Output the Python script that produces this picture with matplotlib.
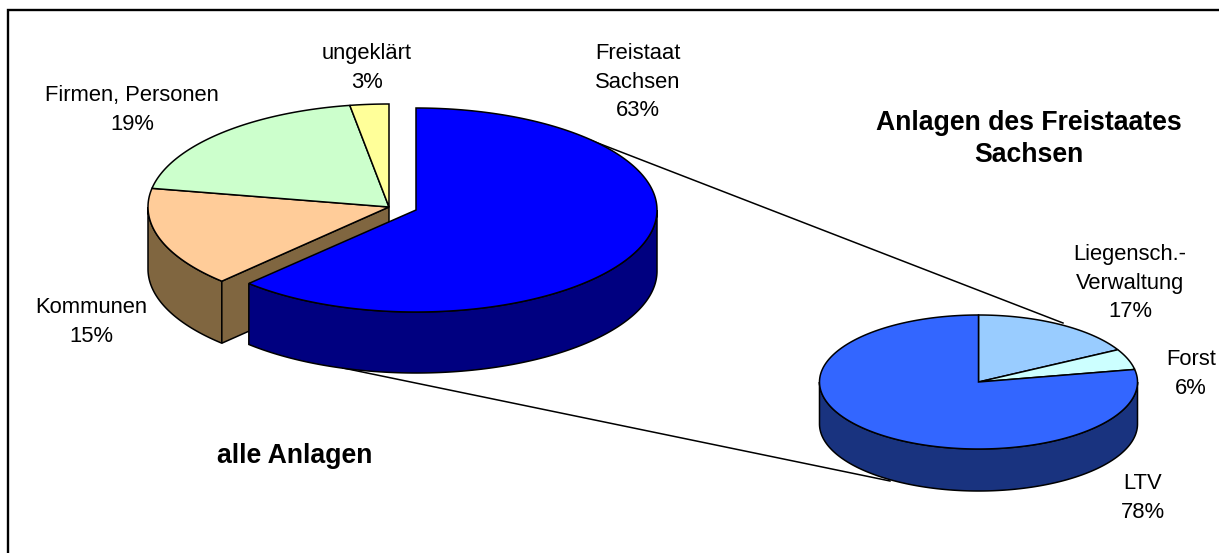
import numpy as np
import matplotlib
matplotlib.use("Agg")
import matplotlib.pyplot as plt
from matplotlib.patches import Polygon

plt.rcParams["font.family"] = ["Liberation Sans", "DejaVu Sans"]

# main pie, shares (labels are rounded)
main_names = ["Freistaat\nSachsen", "Kommunen", "Firmen, Personen", "ungeklärt"]
main_shares = [62.2, 15.7, 19.5, 2.6]
main_labels = ["63%", "15%", "19%", "3%"]
main_top = ["#0000FF", "#FFCC99", "#CCFFCC", "#FFFF99"]
main_side = ["#000080", "#806640", "#668066", "#808040"]

# second pie
sub_names = ["Liegensch.-\nVerwaltung", "Forst", "LTV"]
sub_shares = [17.0, 5.0, 78.0]
sub_labels = ["17%", "6%", "78%"]
sub_top = ["#99CCFF", "#CCFFFF", "#3366FF"]
sub_side = ["#4C6680", "#668080", "#19337F"]

LW = 1.1


def arc(cx, cy, rx, ry, a0, a1):
    # angles in degrees, clockwise from 12 o'clock
    t = np.radians(np.linspace(a0, a1, max(int(abs(a1 - a0)) * 2, 2)))
    return np.column_stack([cx + rx * np.sin(t), cy - ry * np.cos(t)])


def draw_wall(ax, cx, cy, rx, ry, depth, a0, a1, color, z):
    # only the front half of the rim is visible
    a0, a1 = max(a0, 90), min(a1, 270)
    if a1 <= a0:
        return
    up = arc(cx, cy, rx, ry, a0, a1)
    down = up[::-1] + [0, depth]
    ax.add_patch(Polygon(np.vstack([up, down]), closed=True, fc=color, ec="black", lw=LW, zorder=z))


def draw_top(ax, cx, cy, rx, ry, a0, a1, color, z):
    pts = np.vstack([[cx, cy], arc(cx, cy, rx, ry, a0, a1)])
    ax.add_patch(Polygon(pts, closed=True, fc=color, ec="black", lw=LW, zorder=z))


def angles(shares):
    edges = np.cumsum([0] + list(shares)) / sum(shares) * 360
    return list(zip(edges[:-1], edges[1:]))


fig = plt.figure(figsize=(12.19, 5.53), dpi=100)
ax = fig.add_axes([0, 0, 1, 1])
ax.set_xlim(0, 1219)
ax.set_ylim(553, 0)
ax.axis("off")

# outer frame, runs off the right and bottom of the picture
ax.plot([8, 8, 1219], [553, 10, 10], color="black", lw=1.7, zorder=0, solid_joinstyle="miter")

# connector lines
ax.plot([590, 1063], [140, 323], color="black", lw=LW, zorder=1)
ax.plot([343, 890], [368, 481], color="black", lw=LW, zorder=1)

# main pie, rest of the slices sit on one centre, Freistaat is pulled out
cx, cy, rx, ry, depth = 389, 207, 241, 103, 62
bx, by, bry, bdepth = 416, 210, 102, 61
main_angles = angles(main_shares)
for i in [1, 2, 3]:
    a0, a1 = main_angles[i]
    draw_wall(ax, cx, cy, rx, ry, depth, a0, a1, main_side[i], 2)

# cut face of Kommunen towards the pulled out slice
edge = arc(cx, cy, rx, ry, main_angles[1][0], main_angles[1][0])[0]
face = [[cx, cy], edge, edge + [0, depth], [cx, cy + depth]]
ax.add_patch(Polygon(face, closed=True, fc=main_side[1], ec="black", lw=LW, zorder=3))

for i in [1, 2, 3]:
    a0, a1 = main_angles[i]
    draw_top(ax, cx, cy, rx, ry, a0, a1, main_top[i], 4)

a0, a1 = main_angles[0]
draw_wall(ax, bx, by, rx, bry, bdepth, a0, a1, main_side[0], 5)
draw_top(ax, bx, by, rx, bry, a0, a1, main_top[0], 6)

# second pie
sx, sy, srx, sry, sdepth = 978.5, 382, 159, 67, 42
sub_angles = angles(sub_shares)
for i in range(3):
    draw_wall(ax, sx, sy, srx, sry, sdepth, *sub_angles[i], sub_side[i], 7)
for i in range(3):
    draw_top(ax, sx, sy, srx, sry, *sub_angles[i], sub_top[i], 8)

# labels
FS = 15.8
main_pos = [(638, 82), (91, 322), (132, 110), (367, 68)]
for name, pct, (x, y) in zip(main_names, main_labels, main_pos):
    ax.text(x, y, name + "\n" + pct, ha="center", va="center", fontsize=FS, color="black", linespacing=1.46, zorder=10)
sub_pos = [(1130, 283), (1191, 374), (1143, 498)]
for name, pct, (x, y) in zip(sub_names, sub_labels, sub_pos):
    ax.text(x, y, name + "\n" + pct, ha="center", va="center", fontsize=FS, color="black", linespacing=1.46, zorder=10)

ax.text(295, 456, "alle Anlagen", ha="center", va="center", fontsize=19.2, fontweight="bold", zorder=10)
ax.text(1029, 139, "Anlagen des Freistaates\nSachsen", ha="center", va="center", fontsize=19.2,
        fontweight="bold", linespacing=1.26, zorder=10)

fig.savefig("out.png", dpi=100)
